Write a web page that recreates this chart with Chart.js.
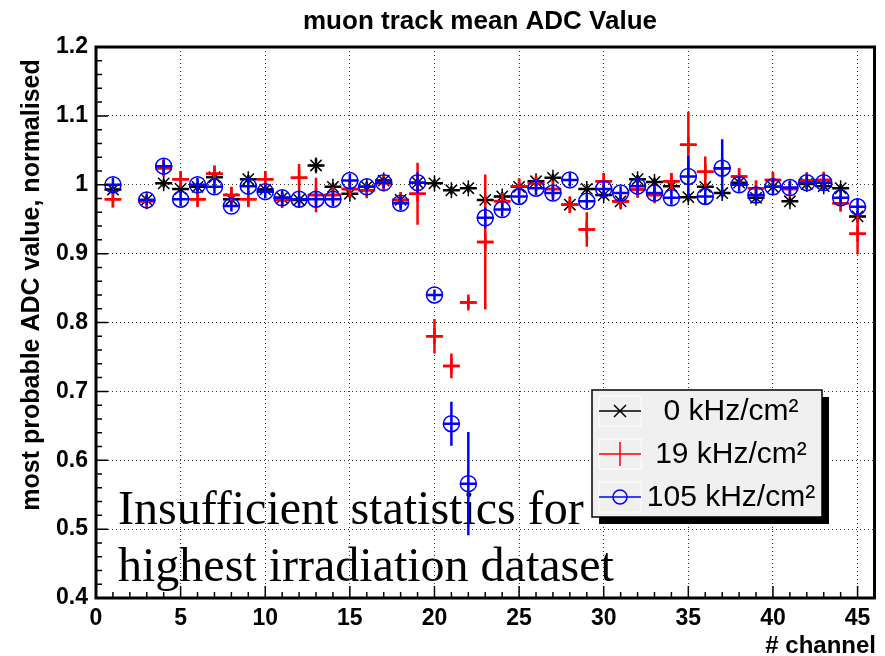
<!DOCTYPE html>
<html>
<head>
<meta charset="utf-8">
<script src="https://cdn.jsdelivr.net/npm/chart.js@4.4.1/dist/chart.umd.min.js"></script>
<style>
    body { margin: 0; background: #fff; }
    #chart-wrap { width: 885px; height: 656px; position: relative; }
</style>
</head>
<body>
<div id="chart-wrap"><canvas id="adc-chart"></canvas></div>
<script>
// channels (channel 2 has no entry)
const channels = [1, 3, 4, 5, 6, 7, 8, 9, 10, 11, 12, 13, 14, 15, 16, 17, 18, 19, 20, 21, 22, 23,
                  24, 25, 26, 27, 28, 29, 30, 31, 32, 33, 34, 35, 36, 37, 38, 39, 40, 41, 42, 43, 44, 45];

// 0 kHz/cm2
const adc0 = [0.993, 0.978, 1.002, 0.994, 0.997, 1.011, 0.979, 1.008, 0.993, 0.981, 0.978, 1.028, 0.997, 0.987,
              0.997, 1.006, 0.978, 1.003, 1.002, 0.992, 0.995, 0.978, 0.983, 0.997, 1.005, 1.010, 0.971, 0.994,
              0.985, 0.976, 1.008, 1.004, 0.998, 0.982, 0.997, 0.988, 1.003, 0.981, 0.997, 0.976, 1.001, 0.998,
              0.995, 0.954];
const err0 = [0.006, 0.006, 0.006, 0.006, 0.006, 0.006, 0.006, 0.006, 0.006, 0.006, 0.006, 0.010, 0.006, 0.006,
              0.006, 0.006, 0.006, 0.006, 0.006, 0.006, 0.006, 0.006, 0.006, 0.006, 0.006, 0.006, 0.006, 0.006,
              0.006, 0.006, 0.006, 0.006, 0.006, 0.006, 0.006, 0.006, 0.006, 0.006, 0.006, 0.006, 0.006, 0.006,
              0.006, 0.008];

// 19 kHz/cm2
const adc19 = [0.979, 0.976, 1.024, 1.008, 0.979, 1.016, 0.985, 0.979, 1.008, 0.978, 1.010, 0.985, 0.985, 0.994,
               0.992, 1.002, 0.978, 0.987, 0.780, 0.737, 0.829, 0.917, 0.976, 0.998, 1.002, 0.994, 0.971, 0.935,
               1.005, 0.976, 0.993, 0.985, 1.005, 1.058, 1.019, 1.024, 1.012, 0.995, 1.007, 0.994, 1.006, 1.007,
               0.973, 0.929];
const err19 = [0.012, 0.010, 0.012, 0.012, 0.010, 0.012, 0.012, 0.010, 0.012, 0.010, 0.020, 0.025, 0.012, 0.012,
               0.010, 0.010, 0.010, 0.045, 0.025, 0.018, 0.008, 0.098, 0.012, 0.010, 0.010, 0.012, 0.012, 0.025,
               0.012, 0.010, 0.012, 0.012, 0.012, 0.048, 0.022, 0.015, 0.012, 0.010, 0.010, 0.010, 0.012, 0.012,
               0.012, 0.030];

// 105 kHz/cm2
const adc105 = [1.000, 0.978, 1.027, 0.979, 1.000, 0.997, 0.969, 0.998, 0.990, 0.981, 0.979, 0.979, 0.979, 1.006,
                0.997, 1.003, 0.973, 1.003, 0.840, 0.653, 0.566, 0.952, 0.964, 0.983, 0.995, 0.988, 1.007, 0.976,
                0.994, 0.988, 0.998, 0.988, 0.981, 1.012, 0.983, 1.024, 1.000, 0.985, 0.997, 0.996, 1.003, 1.003,
                0.981, 0.968];
const err105 = [0.010, 0.008, 0.010, 0.010, 0.010, 0.010, 0.008, 0.010, 0.010, 0.010, 0.010, 0.012, 0.010, 0.010,
                0.008, 0.008, 0.010, 0.015, 0.008, 0.032, 0.075, 0.015, 0.010, 0.010, 0.010, 0.010, 0.010, 0.010,
                0.010, 0.010, 0.010, 0.010, 0.010, 0.030, 0.012, 0.042, 0.010, 0.010, 0.010, 0.010, 0.010, 0.010,
                0.010, 0.012];

const seriesLabels = ['0 kHz/cm²', '19 kHz/cm²', '105 kHz/cm²'];
const xTicks = [0, 5, 10, 15, 20, 25, 30, 35, 40, 45];
const yTicks = [0.4, 0.5, 0.6, 0.7, 0.8, 0.9, 1.0, 1.1, 1.2];

const SANS = '"Liberation Sans", Arial, Helvetica, sans-serif';
const SERIF = '"Liberation Serif", "Times New Roman", serif';

function toPoints(vals, errs) {
    return channels.map((ch, i) => ({ x: ch, y: vals[i], e: errs[i] }));
}

// x and y error bars, drawn just before each dataset's markers
const errorBars = {
    id: 'errorBars',
    beforeDatasetDraw(chart, args) {
        const ds = chart.data.datasets[args.index];
        const xs = chart.scales.x, ys = chart.scales.y;
        const ctx = chart.ctx, area = chart.chartArea;
        ctx.save();
        ctx.beginPath();
        ctx.rect(area.left, area.top, area.right - area.left, area.bottom - area.top);
        ctx.clip();
        ctx.strokeStyle = ds.borderColor;
        ctx.lineWidth = 2.5;
        ctx.beginPath();
        ds.data.forEach(p => {
            const px = xs.getPixelForValue(p.x);
            const py = ys.getPixelForValue(p.y);
            ctx.moveTo(xs.getPixelForValue(p.x - 0.5), py);
            ctx.lineTo(xs.getPixelForValue(p.x + 0.5), py);
            ctx.moveTo(px, ys.getPixelForValue(p.y - p.e));
            ctx.lineTo(px, ys.getPixelForValue(p.y + p.e));
        });
        ctx.stroke();
        ctx.restore();
    }
};

// titles and the note written over the plot
const texts = {
    id: 'texts',
    beforeDraw(chart) {
        const ctx = chart.ctx;
        ctx.save();
        ctx.fillStyle = '#000';
        ctx.font = '48px ' + SERIF;
        ctx.textAlign = 'left';
        ctx.textBaseline = 'alphabetic';
        ctx.fillText('Insufficient statistics for', 118, 524);
        ctx.fillText('highest irradiation dataset', 118, 581);
        ctx.restore();
    },
    afterDraw(chart) {
        const ctx = chart.ctx;
        ctx.save();
        ctx.fillStyle = '#000';
        ctx.font = 'bold 26px ' + SANS;
        ctx.textAlign = 'center';
        ctx.textBaseline = 'middle';
        ctx.fillText('muon track mean ADC Value', 480, 22);

        ctx.font = 'bold 24px ' + SANS;
        ctx.textAlign = 'right';
        ctx.textBaseline = 'alphabetic';
        ctx.fillText('# channel', 876, 653);

        ctx.translate(32, 285);
        ctx.rotate(-Math.PI / 2);
        ctx.font = 'bold 25px ' + SANS;
        ctx.textAlign = 'center';
        ctx.textBaseline = 'middle';
        ctx.fillText('most probable ADC value, normalised', 0, 0);
        ctx.restore();
    }
};

// thick frame plus inward major/minor ticks on the left and bottom axes
const frame = {
    id: 'frame',
    afterDatasetsDraw(chart) {
        const ctx = chart.ctx, a = chart.chartArea;
        const xs = chart.scales.x, ys = chart.scales.y;
        ctx.save();
        ctx.strokeStyle = '#000';
        ctx.lineWidth = 1.5;
        ctx.beginPath();
        for (let v = 0; v <= 46; v++) {
            const px = xs.getPixelForValue(v);
            const len = v % 5 === 0 ? 12 : 6;
            ctx.moveTo(px, a.bottom);
            ctx.lineTo(px, a.bottom - len);
        }
        for (let k = 0; k <= 40; k++) {
            const py = ys.getPixelForValue(0.4 + k * 0.02);
            const len = k % 5 === 0 ? 12 : 6;
            ctx.moveTo(a.left, py);
            ctx.lineTo(a.left + len, py);
        }
        ctx.stroke();
        ctx.lineWidth = 3;
        ctx.strokeRect(a.left, a.top, a.right - a.left, a.bottom - a.top);
        ctx.restore();
    }
};

function drawMarker(ctx, kind, x, y) {
    ctx.beginPath();
    if (kind === 'x') {
        ctx.moveTo(x - 6, y - 6); ctx.lineTo(x + 6, y + 6);
        ctx.moveTo(x - 6, y + 6); ctx.lineTo(x + 6, y - 6);
    } else if (kind === '+') {
        ctx.moveTo(x, y - 12); ctx.lineTo(x, y + 12);
    } else {
        ctx.arc(x, y, 7, 0, Math.PI * 2);
    }
    ctx.stroke();
}

const boxLegend = {
    id: 'boxLegend',
    afterDraw(chart) {
        const ctx = chart.ctx;
        const lx = 592, ly = 390, lw = 230, lh = 127;
        const colors = ['#000000', '#ff0000', '#0000ff'];
        const kinds = ['x', '+', 'o'];
        ctx.save();
        ctx.fillStyle = '#000';
        ctx.fillRect(lx + 7, ly + 7, lw, lh);
        ctx.fillStyle = '#f0f0f0';
        ctx.fillRect(lx, ly, lw, lh);
        ctx.strokeStyle = '#000';
        ctx.lineWidth = 1.5;
        ctx.strokeRect(lx, ly, lw, lh);
        seriesLabels.forEach((label, i) => {
            const ry = ly + 21 + i * 43;
            ctx.strokeStyle = '#ffffff';
            ctx.lineWidth = 1;
            ctx.strokeRect(599, ry - 15, 42, 30);
            ctx.strokeStyle = colors[i];
            ctx.lineWidth = 1.5;
            ctx.beginPath();
            ctx.moveTo(599, ry);
            ctx.lineTo(641, ry);
            ctx.stroke();
            drawMarker(ctx, kinds[i], 620, ry);
            ctx.fillStyle = '#000';
            ctx.font = '30px ' + SANS;
            ctx.textAlign = 'center';
            ctx.textBaseline = 'middle';
            ctx.fillText(label, 731, ry + 1);
        });
        ctx.restore();
    }
};

const ctx = document.getElementById('adc-chart').getContext('2d');
new Chart(ctx, {
    type: 'scatter',
    data: {
        datasets: [
            {
                label: seriesLabels[0],
                data: toPoints(adc0, err0),
                borderColor: '#000000',
                backgroundColor: 'rgba(0,0,0,0)',
                pointStyle: 'star',
                pointRadius: 8,
                borderWidth: 1.5,
                order: 3
            },
            {
                label: seriesLabels[1],
                data: toPoints(adc19, err19),
                borderColor: '#ff0000',
                backgroundColor: 'rgba(0,0,0,0)',
                pointStyle: 'cross',
                pointRadius: 8,
                borderWidth: 2.5,
                order: 2
            },
            {
                label: seriesLabels[2],
                data: toPoints(adc105, err105),
                borderColor: '#0000ff',
                backgroundColor: 'rgba(0,0,0,0)',
                pointStyle: 'circle',
                pointRadius: 8,
                borderWidth: 1.5,
                order: 1
            }
        ]
    },
    options: {
        responsive: true,
        maintainAspectRatio: false,
        animation: false,
        layout: { padding: { left: 0, right: 7, top: 47, bottom: 0 } },
        plugins: {
            legend: { display: false },
            title: { display: false },
            tooltip: { enabled: false }
        },
        scales: {
            x: {
                type: 'linear',
                min: 0,
                max: 46,
                afterBuildTicks: scale => { scale.ticks = xTicks.map(v => ({ value: v })); },
                afterFit: scale => { scale.height = 58; },
                grid: { color: '#333', lineWidth: 1, drawTicks: false },
                border: { display: false, dash: [1, 3] },
                ticks: {
                    padding: 7,
                    color: '#000',
                    font: { family: SANS, size: 23, weight: 'bold' },
                    maxRotation: 0
                }
            },
            y: {
                type: 'linear',
                min: 0.4,
                max: 1.2,
                afterBuildTicks: scale => { scale.ticks = yTicks.map(v => ({ value: v })); },
                afterFit: scale => { scale.width = 96; },
                grid: { color: '#333', lineWidth: 1, drawTicks: false },
                border: { display: false, dash: [1, 3] },
                ticks: {
                    padding: 8,
                    color: '#000',
                    font: { family: SANS, size: 23, weight: 'bold' },
                    callback: v => String(parseFloat(Number(v).toFixed(1)))
                }
            }
        }
    },
    plugins: [texts, errorBars, frame, boxLegend]
});
</script>
</body>
</html>
